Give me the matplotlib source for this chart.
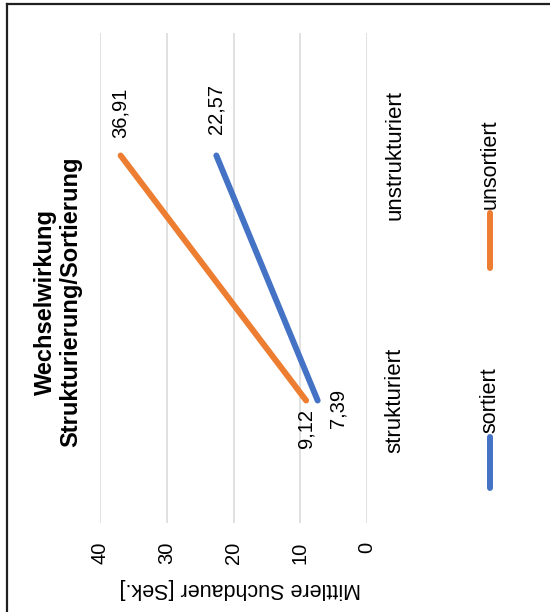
import matplotlib
matplotlib.use("Agg")
import matplotlib.pyplot as plt
from matplotlib.lines import Line2D

plt.rcParams["font.family"] = ["Liberation Sans", "DejaVu Sans"]

# Data
categories = ["strukturiert", "unstrukturiert"]
series_names = ["sortiert", "unsortiert"]
sortiert = [7.39, 22.57]
unsortiert = [9.12, 36.91]
value_ticks = [0, 10, 20, 30, 40]
title_text = "Wechselwirkung\nStrukturierung/Sortierung"
axis_title = "Mittlere Suchdauer [Sek.]"

colors = {"sortiert": "#4472C4", "unsortiert": "#ED7D31"}

W, H = 550, 612
fig = plt.figure(figsize=(W / 100, H / 100), dpi=100)


def fx(px):
    return px / W


def fy(py):
    return 1 - py / H


# Plot area: values run horizontally (right to left), categories vertically
ax = fig.add_axes([fx(100), fy(523), (367 - 100) / W, (523 - 33) / H])
ax.set_xlim(40, 0)
ax.set_ylim(-0.5, 1.5)
for s in ax.spines.values():
    s.set_visible(False)

ax.set_xticks(value_ticks, [str(v) for v in value_ticks], rotation=90)
ax.tick_params(axis="x", length=0, pad=13.5, labelsize=14.5, labelcolor="black")
ax.xaxis.grid(True, color="#D9D9D9", linewidth=1.1)
ax.set_axisbelow(True)

cat_pos = list(range(len(categories)))
ax.yaxis.tick_right()
ax.set_yticks(cat_pos, categories, rotation=90, va="center")
ax.tick_params(axis="y", length=0, pad=12.5, labelsize=16, labelcolor="black")

series = {"sortiert": sortiert, "unsortiert": unsortiert}
for name in series_names:
    ax.plot(series[name], cat_pos, color=colors[name], linewidth=4.3,
            solid_capstyle="round", zorder=3)

# Value labels (offsets in pixels, alignment)
label_style = {
    ("sortiert", 0): ((20, 12), "top"),
    ("sortiert", 1): ((0, 22), "bottom"),
    ("unsortiert", 0): ((0, -8), "top"),
    ("unsortiert", 1): ((0, 18), "bottom"),
}
for name in series_names:
    for i, v in enumerate(series[name]):
        off, va = label_style[(name, i)]
        ax.annotate(f"{v:.2f}".replace(".", ","), xy=(v, cat_pos[i]),
                    xytext=off, textcoords="offset pixels", rotation=90,
                    ha="center", va=va, fontsize=14.5, color="black")

# Chart title
fig.text(fx(58), fy(302), title_text, rotation=90, ha="center", va="center",
         multialignment="center", fontsize=17, fontweight="bold",
         color="black", linespacing=1.1)

# Value axis title
fig.text(fx(240), fy(588), axis_title, rotation=180, ha="center",
         va="center", fontsize=15.5, color="black")

# Legend
legend_items = [("sortiert", 488, 437), ("unsortiert", 268, 213)]
for name, y0, y1 in legend_items:
    fig.add_artist(Line2D([fx(490), fx(490)], [fy(y0), fy(y1)],
                          color=colors[name], linewidth=4.3,
                          solid_capstyle="round"))
    fig.text(fx(490), fy(y1 - 4), name, rotation=90, ha="center",
             va="bottom", fontsize=15.5, color="black")

# Frame edges
fig.add_artist(Line2D([fx(6.5), fx(6.5)], [fy(4), 0], color="#202020",
                      linewidth=1.6))
fig.add_artist(Line2D([fx(6.5), 1], [fy(4), fy(4)], color="#202020",
                      linewidth=1.6))

fig.savefig("out.png", dpi=100)
